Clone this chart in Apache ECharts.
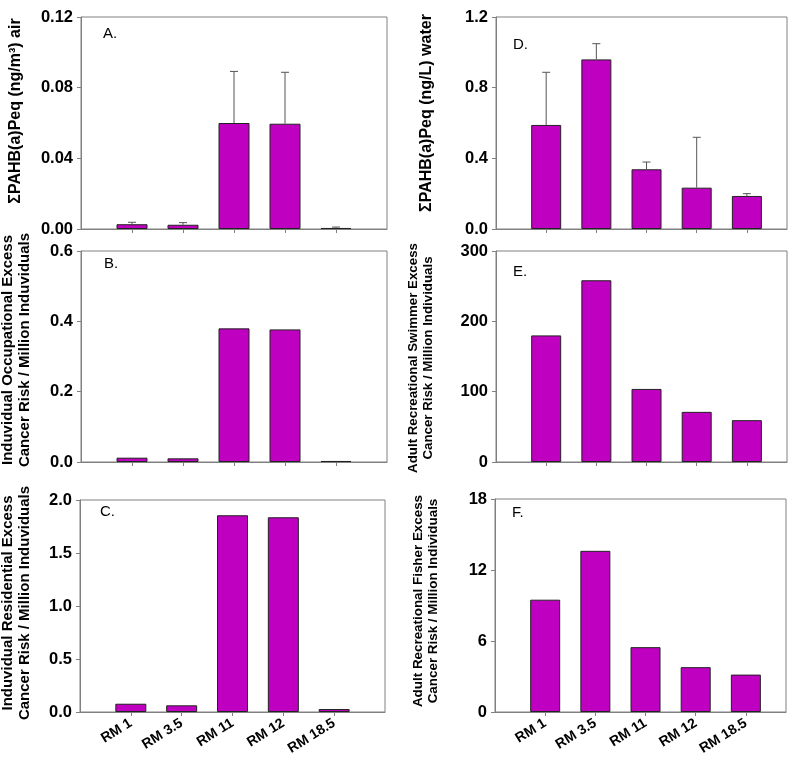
<!DOCTYPE html>
<html><head><meta charset="utf-8">
<script src="https://cdn.jsdelivr.net/npm/echarts@6/dist/echarts.min.js"></script>
<style>html,body{margin:0;padding:0;background:#fff}#c{width:800px;height:779px}</style>
</head><body><div id="c"></div>
<script>
// ---- data ----
const categories = ['RM 1', 'RM 3.5', 'RM 11', 'RM 12', 'RM 18.5'];
const airValues = [0.0027, 0.0024, 0.0600, 0.0596, 0.0006];
const airErrors = [0.0011, 0.0012, 0.0292, 0.0291, 0.0005];
const occupationalRisk = [0.0123, 0.0104, 0.380, 0.377, 0.003];
const residentialRisk = [0.078, 0.063, 1.856, 1.837, 0.028];
const waterValues = [0.589, 0.960, 0.338, 0.234, 0.187];
const waterErrors = [0.298, 0.089, 0.041, 0.285, 0.013];
const swimmerRisk = [180, 258.4, 103.9, 71.3, 59.5];
const fisherRisk = [9.49, 13.62, 5.48, 3.79, 3.16];

const airTicks = [0, 0.04, 0.08, 0.12];
const occupationalTicks = [0, 0.2, 0.4, 0.6];
const residentialTicks = [0, 0.5, 1.0, 1.5, 2.0];
const waterTicks = [0, 0.4, 0.8, 1.2];
const swimmerTicks = [0, 100, 200, 300];
const fisherTicks = [0, 6, 12, 18];

const airTitle = 'ΣPAHB(a)Peq (ng/m³) air';
const waterTitle = 'ΣPAHB(a)Peq (ng/L) water';
const occupationalTitle = 'Induvidual Occupational Excess\nCancer Risk / Million Induviduals';
const residentialTitle = 'Induvidual Residential Excess\nCancer Risk / Million Induviduals';
const swimmerTitle = 'Adult Recreational Swimmer Excess\nCancer Risk / Million Individuals';
const fisherTitle = 'Adult Recreational Fisher Excess\nCancer Risk / Million Individuals';
const panelLetters = ['A.', 'B.', 'C.', 'D.', 'E.', 'F.'];

// ---- layout ----
const FONT = "'Liberation Sans', Arial, sans-serif";
const AXIS_COLOR = '#808080';
const BAR_COLOR = '#c000c0';

const panels = [
  {grid:{left:81, top:17, width:306, height:212}, xmax:6, values:airValues, errors:airErrors, ticks:airTicks, dec:2, showX:false, barW:31,
   title:airTitle, tx:16, ty:111, tsize:16, letter:panelLetters[0], lx:103, ly:34},
  {grid:{left:81, top:251, width:306, height:211}, xmax:6, values:occupationalRisk, ticks:occupationalTicks, dec:1, showX:false, barW:31,
   title:occupationalTitle, tx:16, ty:350, tsize:15, letter:panelLetters[1], lx:104, ly:264},
  {grid:{left:80, top:500, width:305, height:212}, xmax:6, values:residentialRisk, ticks:residentialTicks, dec:1, showX:true, barW:31,
   title:residentialTitle, tx:16, ty:603, tsize:15, letter:panelLetters[2], lx:100, ly:512},
  {grid:{left:496, top:17, width:291, height:212}, xmax:5.8, values:waterValues, errors:waterErrors, ticks:waterTicks, dec:1, showX:false, barW:30,
   title:waterTitle, tx:427, ty:113, tsize:16, letter:panelLetters[3], lx:513, ly:45},
  {grid:{left:496, top:251, width:291, height:211}, xmax:5.8, values:swimmerRisk, ticks:swimmerTicks, dec:0, showX:false, barW:30,
   title:swimmerTitle, tx:421, ty:358, tsize:13.3, letter:panelLetters[4], lx:513, ly:272},
  {grid:{left:495, top:499, width:291, height:213}, xmax:5.8, values:fisherRisk, ticks:fisherTicks, dec:0, showX:true, barW:30,
   title:fisherTitle, tx:426, ty:601, tsize:13.4, letter:panelLetters[5], lx:512, ly:513}
];

const positions = categories.map((c, i) => i + 1);

const option = {
  backgroundColor: '#ffffff',
  animation: false,
  grid: [], xAxis: [], yAxis: [], series: [], graphic: []
};

panels.forEach((p, k) => {
  option.grid.push(Object.assign({show:true, borderColor:AXIS_COLOR, borderWidth:1, backgroundColor:'#fff'}, p.grid));
  option.xAxis.push({
    type:'value', gridIndex:k, min:0, max:p.xmax,
    splitLine:{show:false},
    axisLine:{show:true, lineStyle:{color:AXIS_COLOR, width:1}},
    axisTick:{show:true, customValues:positions, length:4, lineStyle:{color:AXIS_COLOR}},
    axisLabel:{show:p.showX, customValues:positions, rotate:32, margin:10,
      formatter:v => categories[Math.round(v) - 1] || '',
      fontFamily:FONT, fontWeight:'bold', fontSize:14, color:'#000'}
  });
  const t = p.ticks;
  option.yAxis.push({
    type:'value', gridIndex:k, min:t[0], max:t[t.length-1], interval:t[1]-t[0],
    splitLine:{show:false},
    axisLine:{show:true, lineStyle:{color:AXIS_COLOR, width:1}},
    axisTick:{show:true, length:4, lineStyle:{color:AXIS_COLOR}},
    axisLabel:{formatter:v => v.toFixed(p.dec), margin:8,
      fontFamily:FONT, fontWeight:'bold', fontSize:16.5, color:'#000'}
  });
  option.series.push({
    type:'bar', xAxisIndex:k, yAxisIndex:k, barWidth:p.barW,
    itemStyle:{color:BAR_COLOR, borderColor:'#222', borderWidth:1},
    data:p.values.map((v, i) => [positions[i], v])
  });
  if (p.errors) {
    option.series.push({
      type:'custom', xAxisIndex:k, yAxisIndex:k, z:3,
      encode:{x:0, y:1},
      data:p.values.map((v, i) => [positions[i], v, p.errors[i]]),
      renderItem:(params, api) => {
        const x = api.value(0), v = api.value(1), e = api.value(2);
        const a = api.coord([x, v]);
        const b = api.coord([x, v + e]);
        const st = {stroke:'#555', lineWidth:1, fill:null};
        return {type:'group', children:[
          {type:'line', shape:{x1:a[0], y1:a[1], x2:b[0], y2:b[1]}, style:st},
          {type:'line', shape:{x1:b[0]-4, y1:b[1], x2:b[0]+4, y2:b[1]}, style:st}
        ]};
      }
    });
  }
  option.graphic.push({
    type:'text', x:p.tx, y:p.ty, rotation:Math.PI/2,
    style:{text:p.title, font:'bold ' + p.tsize + 'px ' + FONT, fill:'#000',
      textAlign:'center', textVerticalAlign:'middle', lineHeight:Math.round(p.tsize*1.1)}
  });
  option.graphic.push({
    type:'text', x:p.lx, y:p.ly,
    style:{text:p.letter, font:'15px ' + FONT, fill:'#000', textAlign:'left', textVerticalAlign:'middle'}
  });
});

const chart = echarts.init(document.getElementById('c'), null, {renderer:'canvas'});
chart.setOption(option);
</script>
</body></html>
